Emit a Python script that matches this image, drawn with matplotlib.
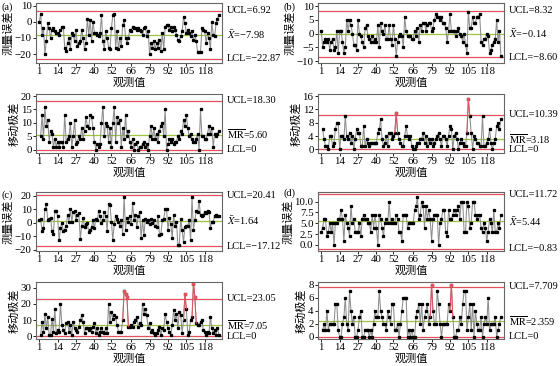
import numpy as np
import matplotlib
matplotlib.use('Agg')
import matplotlib.pyplot as plt
import matplotlib.transforms as mtransforms

plt.rcParams['font.family'] = ['Liberation Serif', 'Noto Sans CJK SC']
plt.rcParams['mathtext.fontset'] = 'stix'
plt.rcParams['font.size'] = 7.5

# x tick labels used on every panel
ticks_x = [1, 14, 27, 40, 52, 66, 79, 92, 105, 118]

# (a) individual values and moving ranges
a_x = [0, 5, -8, -4, -20, -12, -1, -4, -10, -5,
       -4, -6, -7, -7, -8, -5, -3, -3, -16, -18,
       -13, -10, -17, -7, -8, -12, -5, -15, -13, -12,
       -5, -10, -17, -13, 2, -8, 1, -12, 0, -7,
       -7, -8, -9, -7, 4, -12, -17, -6, -10, -16,
       -17, -4, 4, 5, -16, -6, -17, -10, -15, -2,
       1, -10, -13, -10, -5, -6, -3, -4, -4, -5,
       -4, -5, -6, -8, -4, -3, -9, -6, -20,
       -13, -16, -12, -17, -13, -16, -11, -18, -7, -17,
       -3, -2, -2, -5, -3, -6, -3, -5, -8, -11,
       -12, -9, -6, 3, -1, -7, -5, -7, -9, -6,
       -11, -8, -12, -19, -19, -19, -4, -5, -6, -13,
       -7, -10, -17, 0, -8, -9, -1, 2, 4]
a_mr = [5, 13, 4, 16, 9, 11, 3, 7, 6, 1,
        4, 1, 3, 1, 3, 3, 1, 13, 3, 4,
        5, 10, 1, 5, 11, 2, 3, 5, 4, 8,
        4, 7, 12, 9, 8, 13, 12, 8, 3, 0,
        2, 1, 2, 10, 16, 5, 10, 9, 3, 8,
        1, 10, 16, 3, 12, 10, 11, 1, 8, 4,
        13, 5, 7, 3, 1, 4, 0, 2, 3, 0,
        1, 1, 2, 3, 1, 2, 0, 5,
        9, 4, 8, 4, 6, 3, 7, 9, 10, 5,
        15, 0, 2, 4, 3, 4, 2, 3, 3, 5,
        4, 7, 6, 11, 9, 13, 8, 5, 6, 4,
        3, 3, 4, 6, 0, 15, 5, 5, 4, 4,
        6, 9, 6, 8, 1, 6, 5, 6, 7]
a_lim = (6.92, -7.98, -22.87)
a_mr_lim = (18.30, 5.60, 0)

# (b)
b_x = [1, -5, -3, -2, -3, -2, -6, -3, -2, -6,
       -5, 1, -7, 1, 1, -3, -7, -5, 5, 1,
       5, 3, 0, -4, -4, -6, 5, 0, -1, -3,
       -5, 2, 3, -1, -2, -3, -1, -3, -2, -3,
       3, -5, 4, 1, 0, 3, -2, -2, 3, -2,
       -4, 3, -2, -8, -3, -1, 0, -1, -5, 6,
       1, -1, -1, -1, -2, -2, 1, -1, 2, -3,
       3, 1, 4, 4, 1, 3,
       4, 4, 1, 2, 5, 7, 6, 6, 5, 6,
       4, 4, 2, -3, 1, 7, 1, 1, 1, -1,
       1, 2, 0, -1, -3, 0, -4, -7, 8, 2,
       2, 6, 4, 4, 6, 6, 7, -3, -4, -2,
       -2, 0, -1, -7, -6, -4, -3, -2, 5, -3,
       1, -8]
b_mr = [6, 3, 1, 1, 0, 4, 4, 1, 2, 6,
        8, 8, 0, 4, 4, 3, 10, 4, 3, 5,
        2, 4, 0, 3, 6, 5, 5, 1, 1, 7,
        1, 3, 2, 1, 2, 2, 2, 2, 2, 5,
        6, 9, 3, 1, 2, 4, 1, 5, 5, 3,
        4, 5, 11, 5, 3, 2, 1, 1, 4, 7,
        4, 3, 4, 1, 0, 0, 1, 2, 2, 3,
        3, 5, 2, 4, 1, 3, 2, 3, 1, 2,
        3, 4, 5, 3, 1, 4, 4, 3, 1, 4,
        7, 6, 0, 4, 5, 3, 0, 2, 3, 2,
        1, 1, 5, 15, 10, 5, 0, 4, 3, 2,
        2, 1, 1, 10, 1, 1, 2, 3, 6, 2,
        0, 2, 3, 7, 8, 6, 9]
b_lim = (8.32, -0.14, -8.60)
b_mr_lim = (10.39, 3.18, 0)

# (c)
c_x = [2, 3, -6, -4, 10, 14, 2, 3, 4, -6,
       -8, 9, 9, 5, -13, -4, 0, -6, -5, -2,
       6, 1, 10, 1, 8, 9, 2, 6, 7, -12,
       -2, 4, -3, -1, 0, -7, -5, -3, 2, -4,
       3, 2, 9, 5, 0, 2, 8, 5, -6, 14,
       13, 1, -13, -1, 5, 3, 1, -2, 2, -8,
       19, -5, 4, 1, 5, -1, 15, 2, 6, -3,
       5, 8, -11, 2, -9, 3, 1, 2, -1, 3,
       0, 2, -2, -3, 5, -9, -8, 2, 3, 10,
       10, -5, 4, -1, -11, 6, -2, 1, -16, -16,
       3, -5, -14, -3, -2, -2, 2, -13, 19, -5,
       2, 9, 8, 16, 6, 5, 6, 8, 7, 9,
       8, -4, 1, 1, 5, 6, 5, 5]
c_mr = [1, 9, 3, 14, 5, 12, 1, 1, 11, 3,
        17, 2, 4, 3, 20, 7, 4, 2, 8, 9,
        3, 7, 1, 9, 5, 4, 3, 6, 10, 13,
        9, 2, 5, 5, 4, 5, 3, 6, 8, 2,
        5, 1, 3, 5, 3, 2, 5, 2, 20, 9,
        15, 11, 13, 12, 7, 3, 3, 3, 10, 28,
        26, 24, 6, 6, 7, 6, 9, 10, 12, 6,
        8, 7, 20, 14, 17, 13, 5, 8, 3, 4,
        2, 1, 2, 4, 6, 1, 5, 4, 14, 9,
        5, 3, 1, 7, 16, 10, 14, 5, 15, 13,
        2, 10, 26, 17, 1, 3, 10, 12, 32, 24,
        8, 7, 7, 9, 10, 4, 3, 1, 3, 2,
        12, 5, 2, 4, 1, 5, 1]
c_lim = (20.41, 1.64, -17.12)
c_mr_lim = (23.05, 7.05, 0)

# (d)
d_x = [3, 4, 6, 6, 2, 3, 5, 3, 5, 0,
       5, 5, 6, 6, 8, 6, 1, 7, 5, 4,
       2, 9, 5, 6, 3, 3, 3, 5, 2, 6,
       7, 6, 6, 5, 5, 3, 7, 4, 7, 4,
       0, 7, 6, 4, 2, 5, 6, 5, 10, 5,
       6, 5, 5, 7, 6, 3, 3, 1, 7, 7,
       7, 4, 5, 5, 5, 5, 8, 9, 11, 6,
       7, 10, 9, 4, 9, 6, 8, 6, 1, 6,
       7, 7, 7, 0, 5, 6, 8, 8, 3, 2,
       8, 6, 6, 7, 8, 7, 8, 9, 6, 10,
       10, 3, 3, 10, 9, 4, 5, 10, 10, 7,
       6, 7, 7, 4, 3, 5, 4, 1, 3, 6,
       5, 3, 8, 3, 3, 5, 4, 7]
d_mr = [1, 2, 1, 4, 1, 2, 2, 2, 2, 5,
        5, 1, 0, 0, 2, 3, 6, 2, 1, 7,
        4, 2, 3, 0, 0, 1, 3, 4, 0, 0,
        1, 1, 1, 0, 1, 0, 2, 4, 3, 3,
        7, 4, 3, 2, 2, 1, 4, 3, 2, 5,
        5, 1, 1, 2, 0, 2, 4, 6, 6, 6,
        0, 1, 0, 1, 0, 0, 3, 4, 5, 2,
        5, 1, 3, 4, 5, 2, 3, 8, 4, 2,
        2, 7, 5, 2, 0, 2, 2, 2, 2, 5,
        4, 8, 3, 0, 0, 1, 1, 3, 2, 5,
        7, 7, 1, 3, 5, 1, 5, 0, 4, 2,
        1, 1, 3, 0, 2, 3, 2, 6, 1, 2,
        2, 2, 3, 0, 1, 2, 3]
d_lim = (11.72, 5.44, -0.83)
d_mr_lim = (7.709, 2.359, 0)

RED = '#e4505e'
GREEN = '#9cc43c'
GREY = '#8e8e8e'
M = '\u2212'


def fmt(v, nd):
    s = f'{v:.{nd}f}'
    return s.replace('-', M)


def draw(ax, vals, start, lims, nd, is_mr, yticks, ylim, tickfmt='{:g}'):
    ucl, cl, lcl = lims
    v = np.array(vals, float)
    x = np.arange(start, start + len(v))
    ax.axhline(ucl, color=RED, lw=0.9, zorder=2)
    ax.axhline(lcl, color=RED, lw=0.9, zorder=2)
    ax.axhline(cl, color=GREEN, lw=0.9, zorder=2)
    ax.plot(x, v, color=GREY, lw=0.75, zorder=3)
    ax.plot(x, v, 's', ms=1.4, color='black', zorder=4)
    for i in np.where(v > ucl)[0]:
        lo, hi = max(i - 1, 0), min(i + 2, len(v))
        ax.plot(x[lo:hi], v[lo:hi], color=RED, lw=0.7, zorder=5)
        ax.plot(x[i], v[i], 's', ms=1.6, color=RED, zorder=6)

    ax.set_xlim(-1.3, 130.2)
    ax.set_ylim(*ylim)
    ax.set_xticks(ticks_x)
    ax.set_yticks(yticks)
    ax.set_yticklabels([tickfmt.format(t).replace('-', M) for t in yticks])
    ax.tick_params(direction='out', length=2, width=0.6, pad=1.2, labelsize=7.8)
    for s in ax.spines.values():
        s.set_color('#666666')
        s.set_linewidth(0.8)
    ax.set_xlabel('观测值', fontsize=8, labelpad=0.5)
    ax.set_ylabel('移动极差' if is_mr else '测量误差', fontsize=8, labelpad=1)

    tr = mtransforms.blended_transform_factory(ax.transAxes, ax.transData)
    cname = r'$\overline{\mathrm{MR}}$' if is_mr else r'$\bar{X}$'
    ax.text(1.025, ucl, 'UCL=' + fmt(ucl, nd), transform=tr, va='center', ha='left')
    ax.text(1.025, cl, cname + '=' + fmt(cl, nd), transform=tr, va='center', ha='left')
    lcl_txt = 'LCL=0' if lcl == 0 else 'LCL=' + fmt(lcl, nd)
    ax.text(1.025, lcl, lcl_txt, transform=tr, va='center', ha='left')


fig = plt.figure(figsize=(5.6, 3.66), dpi=100)

lx, rx, w = 36 / 560, 318 / 560, 186 / 560
rows = [(63, 60), (153, 59), (251, 59), (339, 57)]


def pos(col, row):
    b, h = rows[row]
    return [col, 1 - b / 366, w, h / 366]


ax = fig.add_axes(pos(lx, 0))
draw(ax, a_x, 1, a_lim, 2, False, [-20, -10, 0, 10], (-25.5, 11.6))
ax = fig.add_axes(pos(lx, 1))
draw(ax, a_mr, 2, a_mr_lim, 2, True, [0, 5, 10, 15, 20], (-1.3, 20.8))
ax = fig.add_axes(pos(rx, 0))
draw(ax, b_x, 1, b_lim, 2, False, [-10, -5, 0, 5, 10], (-10.7, 11.1))
ax = fig.add_axes(pos(rx, 1))
draw(ax, b_mr, 2, b_mr_lim, 2, True, [0, 4, 8, 12, 16], (-1.1, 16.6))
ax = fig.add_axes(pos(lx, 2))
draw(ax, c_x, 1, c_lim, 2, False, [-20, -10, 0, 10, 20], (-20.8, 22.9))
ax = fig.add_axes(pos(lx, 3))
draw(ax, c_mr, 2, c_mr_lim, 2, True, [0, 10, 20, 30], (-1.6, 33.5))
ax = fig.add_axes(pos(rx, 2))
draw(ax, d_x, 1, d_lim, 2, False, [0, 2.5, 5, 7.5, 10], (-1.4, 12.2), '{:.1f}')
ax = fig.add_axes(pos(rx, 3))
draw(ax, d_mr, 2, d_mr_lim, 3, True, [0, 2, 4, 6, 8], (-0.35, 8.4))

fig.text(2 / 560, 1 - 7 / 366, '(a)', va='center', fontsize=7.5)
fig.text(283 / 560, 1 - 7 / 366, '(b)', va='center', fontsize=7.5)
fig.text(2 / 560, 1 - 195 / 366, '(c)', va='center', fontsize=7.5)
fig.text(283 / 560, 1 - 193 / 366, '(d)', va='center', fontsize=7.5)

fig.savefig('out.png', dpi=100)
